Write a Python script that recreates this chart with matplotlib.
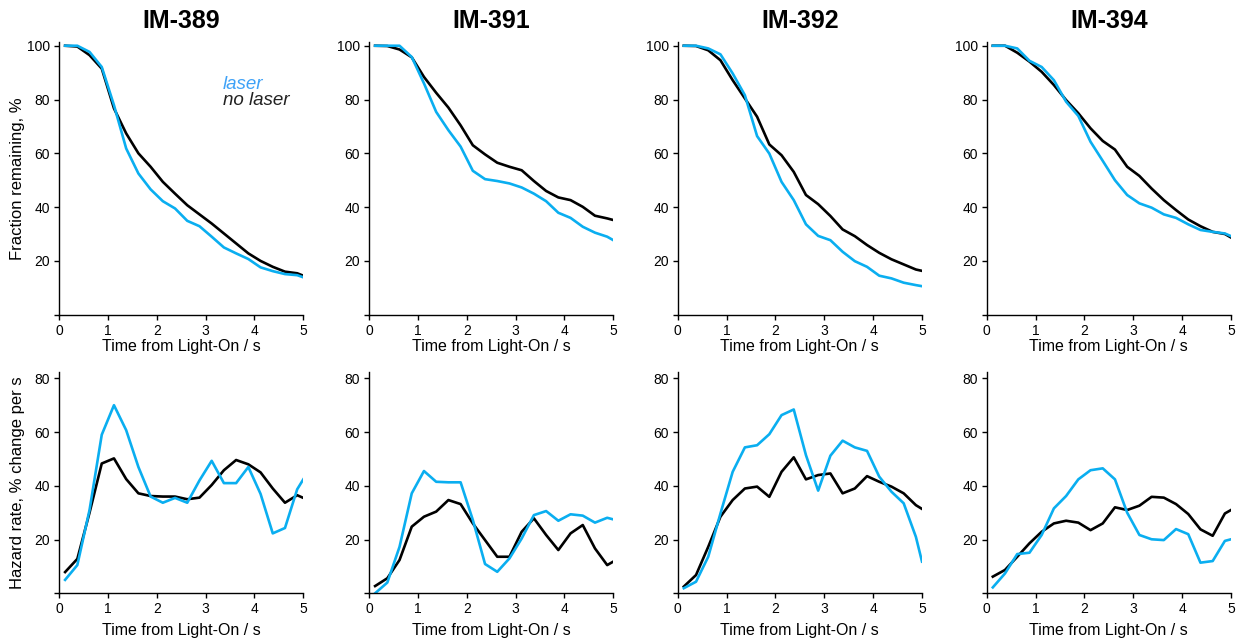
import matplotlib.pyplot as plt

plt.rcParams['font.family'] = ['Liberation Sans', 'DejaVu Sans']

mice = ["IM-389", "IM-391", "IM-392", "IM-394"]

t = [0.125, 0.375, 0.625, 0.875, 1.125, 1.375, 1.625, 1.875, 2.125, 2.375, 2.625,
     2.875, 3.125, 3.375, 3.625, 3.875, 4.125, 4.375, 4.625, 4.875, 5.0]

# fraction remaining, %
surv_laser = [
    [100, 100, 97.7, 92.1, 77.9, 61.8, 52.5, 46.6, 42.2, 39.5, 34.9, 32.9, 29, 25, 22.8, 20.7, 17.6, 16.2, 15.1, 14.7, 13.9],
    [100, 100, 100, 95.8, 86, 75.4, 68.6, 62.5, 53.5, 50.4, 49.7, 48.8, 47.3, 45, 42.2, 37.9, 36, 32.7, 30.5, 29, 27.7],
    [100, 100, 99, 96.8, 89.7, 81.6, 66.4, 59.9, 49.4, 42.6, 33.6, 29.3, 27.7, 23.4, 19.9, 17.8, 14.5, 13.5, 11.9, 11, 10.6],
    [100, 100, 99, 94.4, 92.1, 87.2, 79.2, 73.9, 64.3, 57.2, 50, 44.5, 41.4, 39.8, 37.3, 36, 33.6, 31.5, 30.8, 30.2, 29.2],
]
surv_nolaser = [
    [100, 99.7, 96.5, 91.5, 76.7, 67.4, 60, 55, 49.4, 45, 40.7, 37.3, 33.9, 30.2, 26.5, 22.8, 20, 17.8, 16, 15.4, 14.5],
    [100, 99.9, 98.6, 95.7, 88.4, 82.5, 77, 70.4, 63, 59.6, 56.5, 55, 53.7, 49.7, 46, 43.6, 42.6, 40.1, 36.8, 35.8, 35.2],
    [100, 99.9, 98.3, 94.6, 87.2, 80.4, 73.6, 63.3, 59.3, 53.1, 44.5, 41.1, 36.7, 31.7, 29.2, 25.9, 23, 20.6, 18.7, 16.8, 16.3],
    [100, 100, 97.4, 94.1, 90.3, 85.4, 79.8, 74.9, 69.3, 64.6, 61.4, 55, 51.6, 46.9, 42.6, 38.9, 35.4, 32.9, 30.8, 30, 28.7],
]

# hazard rate, % change per s
haz_laser = [
    [5, 10.5, 31, 59, 70, 60.7, 47, 36, 33.7, 35.5, 33.7, 42, 49.3, 41, 41, 47, 37, 22.3, 24.3, 38.7, 42.4],
    [0, 4, 17.3, 37.2, 45.5, 41.5, 41.3, 41.3, 27.3, 10.9, 8, 13, 20.4, 29.1, 30.6, 27, 29.4, 28.9, 26.3, 28.1, 27.5],
    [1.9, 4.3, 13.6, 29.7, 45.2, 54.3, 55.1, 59.2, 66.3, 68.4, 51.4, 38.2, 51.2, 56.8, 54.3, 53, 43.4, 37.8, 33.5, 21, 11.8],
    [2.2, 7.4, 14.6, 15.1, 21.7, 31.6, 36.2, 42.4, 45.8, 46.5, 42.4, 30, 21.7, 20.1, 19.8, 23.9, 22, 11.4, 12, 19.5, 20.1],
]
haz_nolaser = [
    [7.9, 12.8, 30, 48.3, 50.2, 42.5, 37.2, 36.2, 36, 36, 35, 35.6, 40.3, 45.8, 49.6, 48, 45, 39, 33.7, 36.5, 35.5],
    [2.7, 5.6, 12.4, 24.8, 28.5, 30.4, 34.7, 33.2, 26, 19.8, 13.6, 13.6, 22.9, 27.9, 21.7, 16.1, 22.3, 25.4, 16.7, 10.5, 11.8],
    [2.5, 6.8, 17.3, 28.5, 34.7, 39, 39.7, 35.9, 45.2, 50.6, 42.4, 44, 44.6, 37.2, 39, 43.6, 41.5, 39.7, 37.2, 32.8, 31.4],
    [6.2, 8.7, 13.6, 18.6, 22.9, 26, 27, 26.3, 23.5, 26, 32, 31, 32.6, 35.9, 35.6, 33.2, 29.5, 23.8, 21.4, 29.7, 31],
]

azul = "#0aaef0"
W, H = 1238, 640
izq = [59, 369, 677.7, 986.7]
ancho = 244.3


def estilo(ax, yticks, ymax):
    ax.set_xlim(0, 5)
    ax.set_ylim(0, ymax)
    ax.set_xticks([0, 1, 2, 3, 4, 5])
    ax.set_yticks(yticks)
    ax.set_yticklabels([""] + [str(v) for v in yticks[1:]])
    for s in ["top", "right"]:
        ax.spines[s].set_visible(False)
    for s in ["left", "bottom"]:
        ax.spines[s].set_linewidth(1.0)
    ax.tick_params(direction="out", length=3.5, width=1.0, labelsize=10, pad=3)
    ax.set_xlabel("Time from Light-On / s", fontsize=11.5, labelpad=1)


fig = plt.figure(figsize=(W / 100, H / 100), dpi=100)

for i, nombre in enumerate(mice):
    ax = fig.add_axes([izq[i] / W, (H - 314.7) / H, ancho / W, 273 / H])
    ax.plot(t, surv_nolaser[i], color="black", lw=1.9)
    ax.plot(t, surv_laser[i], color=azul, lw=1.9)
    estilo(ax, [0, 20, 40, 60, 80, 100], 101.5)
    ax.set_title(nombre, fontsize=18, fontweight="bold", pad=10)
    if i == 0:
        ax.set_ylabel("Fraction remaining, %", fontsize=12)
        ax.yaxis.set_label_coords(-0.14, 0.5)
        ax.text(3.35, 84.0, "laser", color="#3fa2f7", fontsize=13.5, style="italic")
        ax.text(3.35, 77.8, "no laser", color="#222222", fontsize=13.5, style="italic")

    ax2 = fig.add_axes([izq[i] / W, (H - 593.3) / H, ancho / W, 221.7 / H])
    ax2.plot(t, haz_nolaser[i], color="black", lw=1.9)
    ax2.plot(t, haz_laser[i], color=azul, lw=1.9)
    estilo(ax2, [0, 20, 40, 60, 80], 82.5)
    ax2.xaxis.labelpad = 5
    if i == 0:
        ax2.set_ylabel("Hazard rate, % change per s", fontsize=12)
        ax2.yaxis.set_label_coords(-0.14, 0.5)

fig.savefig("out.png", dpi=100)
